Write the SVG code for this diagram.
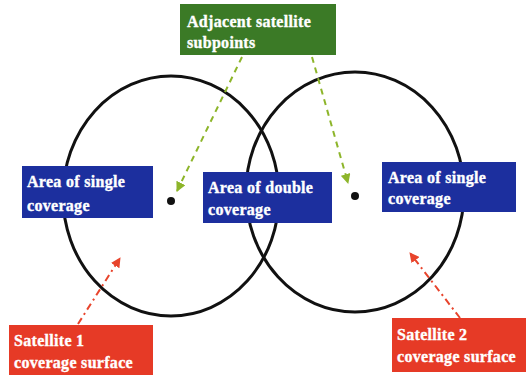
<svg xmlns="http://www.w3.org/2000/svg" width="530" height="375" viewBox="0 0 530 375">
  <defs>
    <style>
      .lbl { font-family: "Liberation Serif", "Times New Roman", serif; font-weight: 700; font-size: 16px; fill: #ffffff; stroke: #ffffff; stroke-width: 0.35px; letter-spacing: 0.3px; }
      .blue { fill: #1c2f9e; }
      .green { fill: #3b7a26; }
      .red { fill: #e63a26; }
      .ring { fill: none; stroke: #111111; stroke-width: 3; }
      .sub { stroke: #8db52a; stroke-width: 2; stroke-dasharray: 6 5; fill: none; }
      .surf { stroke: #e8442c; stroke-width: 2; stroke-dasharray: 7 4 2 4; fill: none; }
    </style>
    <marker id="ahGreen" viewBox="0 0 10 10" refX="9" refY="5" markerWidth="5" markerHeight="5" orient="auto">
      <path d="M0,0 L10,5 L0,10 z" fill="#8db52a"/>
    </marker>
    <marker id="ahRed" viewBox="0 0 10 10" refX="9" refY="5" markerWidth="5" markerHeight="5" orient="auto">
      <path d="M0,0 L10,5 L0,10 z" fill="#e8442c"/>
    </marker>
  </defs>
  <rect width="530" height="375" fill="#ffffff"/>

  <!-- coverage footprints -->
  <g id="coverage1">
    <ellipse class="ring" cx="171" cy="196" rx="108" ry="120"/>
  </g>
  <g id="coverage2">
    <ellipse class="ring" cx="355" cy="192" rx="109" ry="120"/>
  </g>

  <!-- subpoints -->
  <g id="subpoint1"><circle cx="171" cy="201" r="4" fill="#111111"/></g>
  <g id="subpoint2"><circle cx="355" cy="196" r="4" fill="#111111"/></g>

  <g id="connectors">
    <line class="sub" x1="242" y1="57" x2="177" y2="191" marker-end="url(#ahGreen)"/>
    <line class="sub" x1="312" y1="57" x2="348" y2="183" marker-end="url(#ahGreen)"/>
    <line class="surf" x1="78" y1="324" x2="120" y2="258" marker-end="url(#ahRed)"/>
    <line class="surf" x1="460" y1="318" x2="410" y2="253" marker-end="url(#ahRed)"/>
  </g>

  <g id="subpoints-label">
    <rect class="green" x="180" y="4" width="156" height="51"/>
    <text class="lbl" x="187" y="27">Adjacent satellite</text>
    <text class="lbl" x="187" y="48">subpoints</text>
  </g>

  <g id="single-left">
    <rect class="blue" x="22" y="166" width="131" height="52"/>
    <text class="lbl" x="27" y="187">Area of single</text>
    <text class="lbl" x="27" y="211">coverage</text>
  </g>

  <g id="double">
    <rect class="blue" x="203" y="172" width="129" height="51"/>
    <text class="lbl" x="208" y="193">Area of double</text>
    <text class="lbl" x="208" y="215">coverage</text>
  </g>

  <g id="single-right">
    <rect class="blue" x="382" y="162" width="134" height="50"/>
    <text class="lbl" x="388" y="183">Area of single</text>
    <text class="lbl" x="388" y="204">coverage</text>
  </g>

  <g id="surface1">
    <rect class="red" x="9" y="325" width="144" height="52"/>
    <text class="lbl" x="14" y="346">Satellite 1</text>
    <text class="lbl" x="14" y="368">coverage surface</text>
  </g>

  <g id="surface2">
    <rect class="red" x="392" y="318" width="134" height="54"/>
    <text class="lbl" x="397" y="340">Satellite 2</text>
    <text class="lbl" x="397" y="362">coverage surface</text>
  </g>
</svg>
